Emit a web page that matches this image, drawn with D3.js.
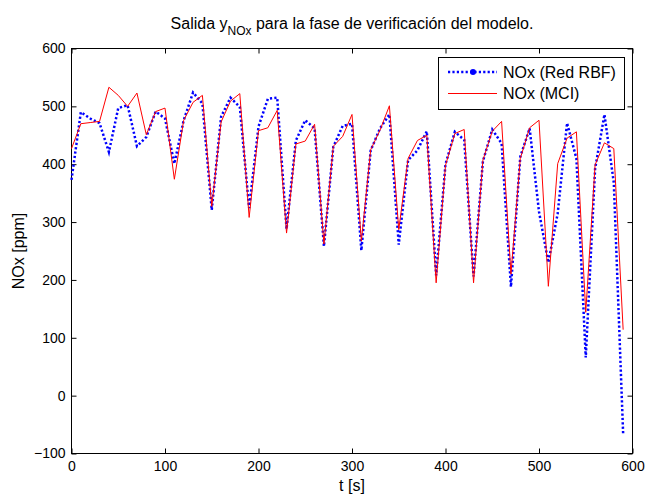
<!DOCTYPE html>
<html>
<head>
<meta charset="utf-8">
<script src="https://cdn.jsdelivr.net/npm/d3@7"></script>
<style>
  body { margin: 0; background: #fff; }
  svg text { font-family: "Liberation Sans", Arial, sans-serif; fill: #000; }
</style>
</head>
<body>
<div class="canvas"></div>
<script>
// time samples [s]
const time = [0, 10, 20, 30, 40, 50, 60, 70, 80, 90,
  100, 110, 120, 130, 140, 150, 160, 170, 180, 190,
  200, 210, 220, 230, 240, 250, 260, 270, 280, 290,
  300, 310, 320, 330, 340, 350, 360, 370, 380, 390,
  400, 410, 420, 430, 440, 450, 460, 470, 480, 490,
  500, 510, 520, 530, 540, 550, 560, 570, 580, 590];

// NOx (Red RBF)
const noxRbf = [373, 490, 479, 471, 421, 497, 502, 431, 447, 491,
  479, 401, 476, 524, 505, 321, 482, 515, 499, 324,
  465, 513, 515, 288, 441, 476, 462, 258, 430, 466,
  470, 251, 424, 462, 486, 261, 407, 424, 457, 208,
  400, 456, 442, 206, 405, 460, 436, 188, 413, 462,
  318, 230, 315, 471, 410, 66, 392, 486, 368, -66];

// NOx (MCI)
const noxMci = [427, 470, 472, 474, 533, 519, 500, 523, 451, 491,
  497, 374, 476, 507, 519, 327, 473, 509, 522, 308,
  458, 463, 493, 281, 435, 440, 469, 262, 431, 448,
  486, 267, 425, 459, 501, 287, 410, 441, 450, 195,
  398, 453, 460, 195, 407, 457, 474, 210, 410, 463,
  476, 189, 401, 445, 456, 144, 399, 437, 427, 114];

const xTicks = [0, 100, 200, 300, 400, 500, 600];
const yTicks = [-100, 0, 100, 200, 300, 400, 500, 600];
const legendLabels = ["NOx (Red RBF)", "NOx (MCI)"];

const width = 647, height = 496;
const box = { left: 71.5, right: 632.5, top: 48.5, bottom: 453.5 };

const svg = d3.select(".canvas")
    .append("svg")
    .attr("width", width)
    .attr("height", height);

const x = d3.scaleLinear().domain([0, 600]).range([box.left, box.right]);
const y = d3.scaleLinear().domain([-100, 600]).range([box.bottom, box.top]);

// axes, ticks pointing inward on all sides
const xAxis = svg.append("g")
    .attr("transform", `translate(0, ${box.bottom})`)
    .call(d3.axisBottom(x).tickValues(xTicks).tickSize(-5).tickPadding(8));
const xAxisTop = svg.append("g")
    .attr("transform", `translate(0, ${box.top})`)
    .call(d3.axisTop(x).tickValues(xTicks).tickSize(-5).tickFormat(""));
const yAxis = svg.append("g")
    .attr("transform", `translate(${box.left}, 0)`)
    .call(d3.axisLeft(y).tickValues(yTicks).tickSize(-5).tickPadding(6));
const yAxisRight = svg.append("g")
    .attr("transform", `translate(${box.right}, 0)`)
    .call(d3.axisRight(y).tickValues(yTicks).tickSize(-5).tickFormat(""));

[xAxis, xAxisTop, yAxis, yAxisRight].forEach(g => {
    g.select(".domain").remove();
    g.selectAll("line").attr("stroke", "#000");
    g.selectAll("text").attr("font-size", 14).attr("font-family", "Liberation Sans, Arial, sans-serif");
});

svg.append("rect")
    .attr("x", box.left).attr("y", box.top)
    .attr("width", box.right - box.left).attr("height", box.bottom - box.top)
    .attr("fill", "none").attr("stroke", "#000");

const plot = svg.append("g");

const line = series => d3.line()
    .x((d, i) => x(time[i]))
    .y(d => y(d))(series);

plot.append("path")
    .attr("d", line(noxRbf))
    .attr("fill", "none")
    .attr("stroke", "#0000ff")
    .attr("stroke-width", 2.5)
    .attr("stroke-dasharray", "2.2 2.2");

plot.append("path")
    .attr("d", line(noxMci))
    .attr("fill", "none")
    .attr("stroke", "#ff0000")
    .attr("stroke-width", 1);

// title with subscript
const title = svg.append("text")
    .attr("x", (box.left + box.right) / 2)
    .attr("y", 29)
    .attr("text-anchor", "middle")
    .attr("font-size", 16);
title.append("tspan").text("Salida y");
title.append("tspan").attr("font-size", 12).attr("dy", 6).text("NOx");
title.append("tspan").attr("dy", -6).text(" para la fase de verificación del modelo.");

svg.append("text")
    .attr("x", (box.left + box.right) / 2)
    .attr("y", 491)
    .attr("text-anchor", "middle")
    .attr("font-size", 16)
    .text("t [s]");

svg.append("text")
    .attr("transform", `translate(24, ${(box.top + box.bottom) / 2}) rotate(-90)`)
    .attr("text-anchor", "middle")
    .attr("font-size", 16)
    .text("NOx [ppm]");

// legend
const legend = svg.append("g");
legend.append("rect")
    .attr("x", 438.5).attr("y", 57.5)
    .attr("width", 186).attr("height", 52)
    .attr("fill", "#fff").attr("stroke", "#000");

const rowY = [72, 93.5];
legend.append("line")
    .attr("x1", 448).attr("x2", 497).attr("y1", rowY[0]).attr("y2", rowY[0])
    .attr("stroke", "#0000ff").attr("stroke-width", 2.5).attr("stroke-dasharray", "2.2 2.2");
legend.append("circle")
    .attr("cx", 473).attr("cy", rowY[0]).attr("r", 3).attr("fill", "#0000ff");
legend.append("line")
    .attr("x1", 448).attr("x2", 497).attr("y1", rowY[1]).attr("y2", rowY[1])
    .attr("stroke", "#ff0000").attr("stroke-width", 1);

legend.selectAll("text.lab")
    .data(legendLabels)
    .enter()
    .append("text")
    .attr("class", "lab")
    .attr("x", 503)
    .attr("y", (d, i) => rowY[i] + 5.8)
    .attr("font-size", 16)
    .text(d => d);
</script>
</body>
</html>
